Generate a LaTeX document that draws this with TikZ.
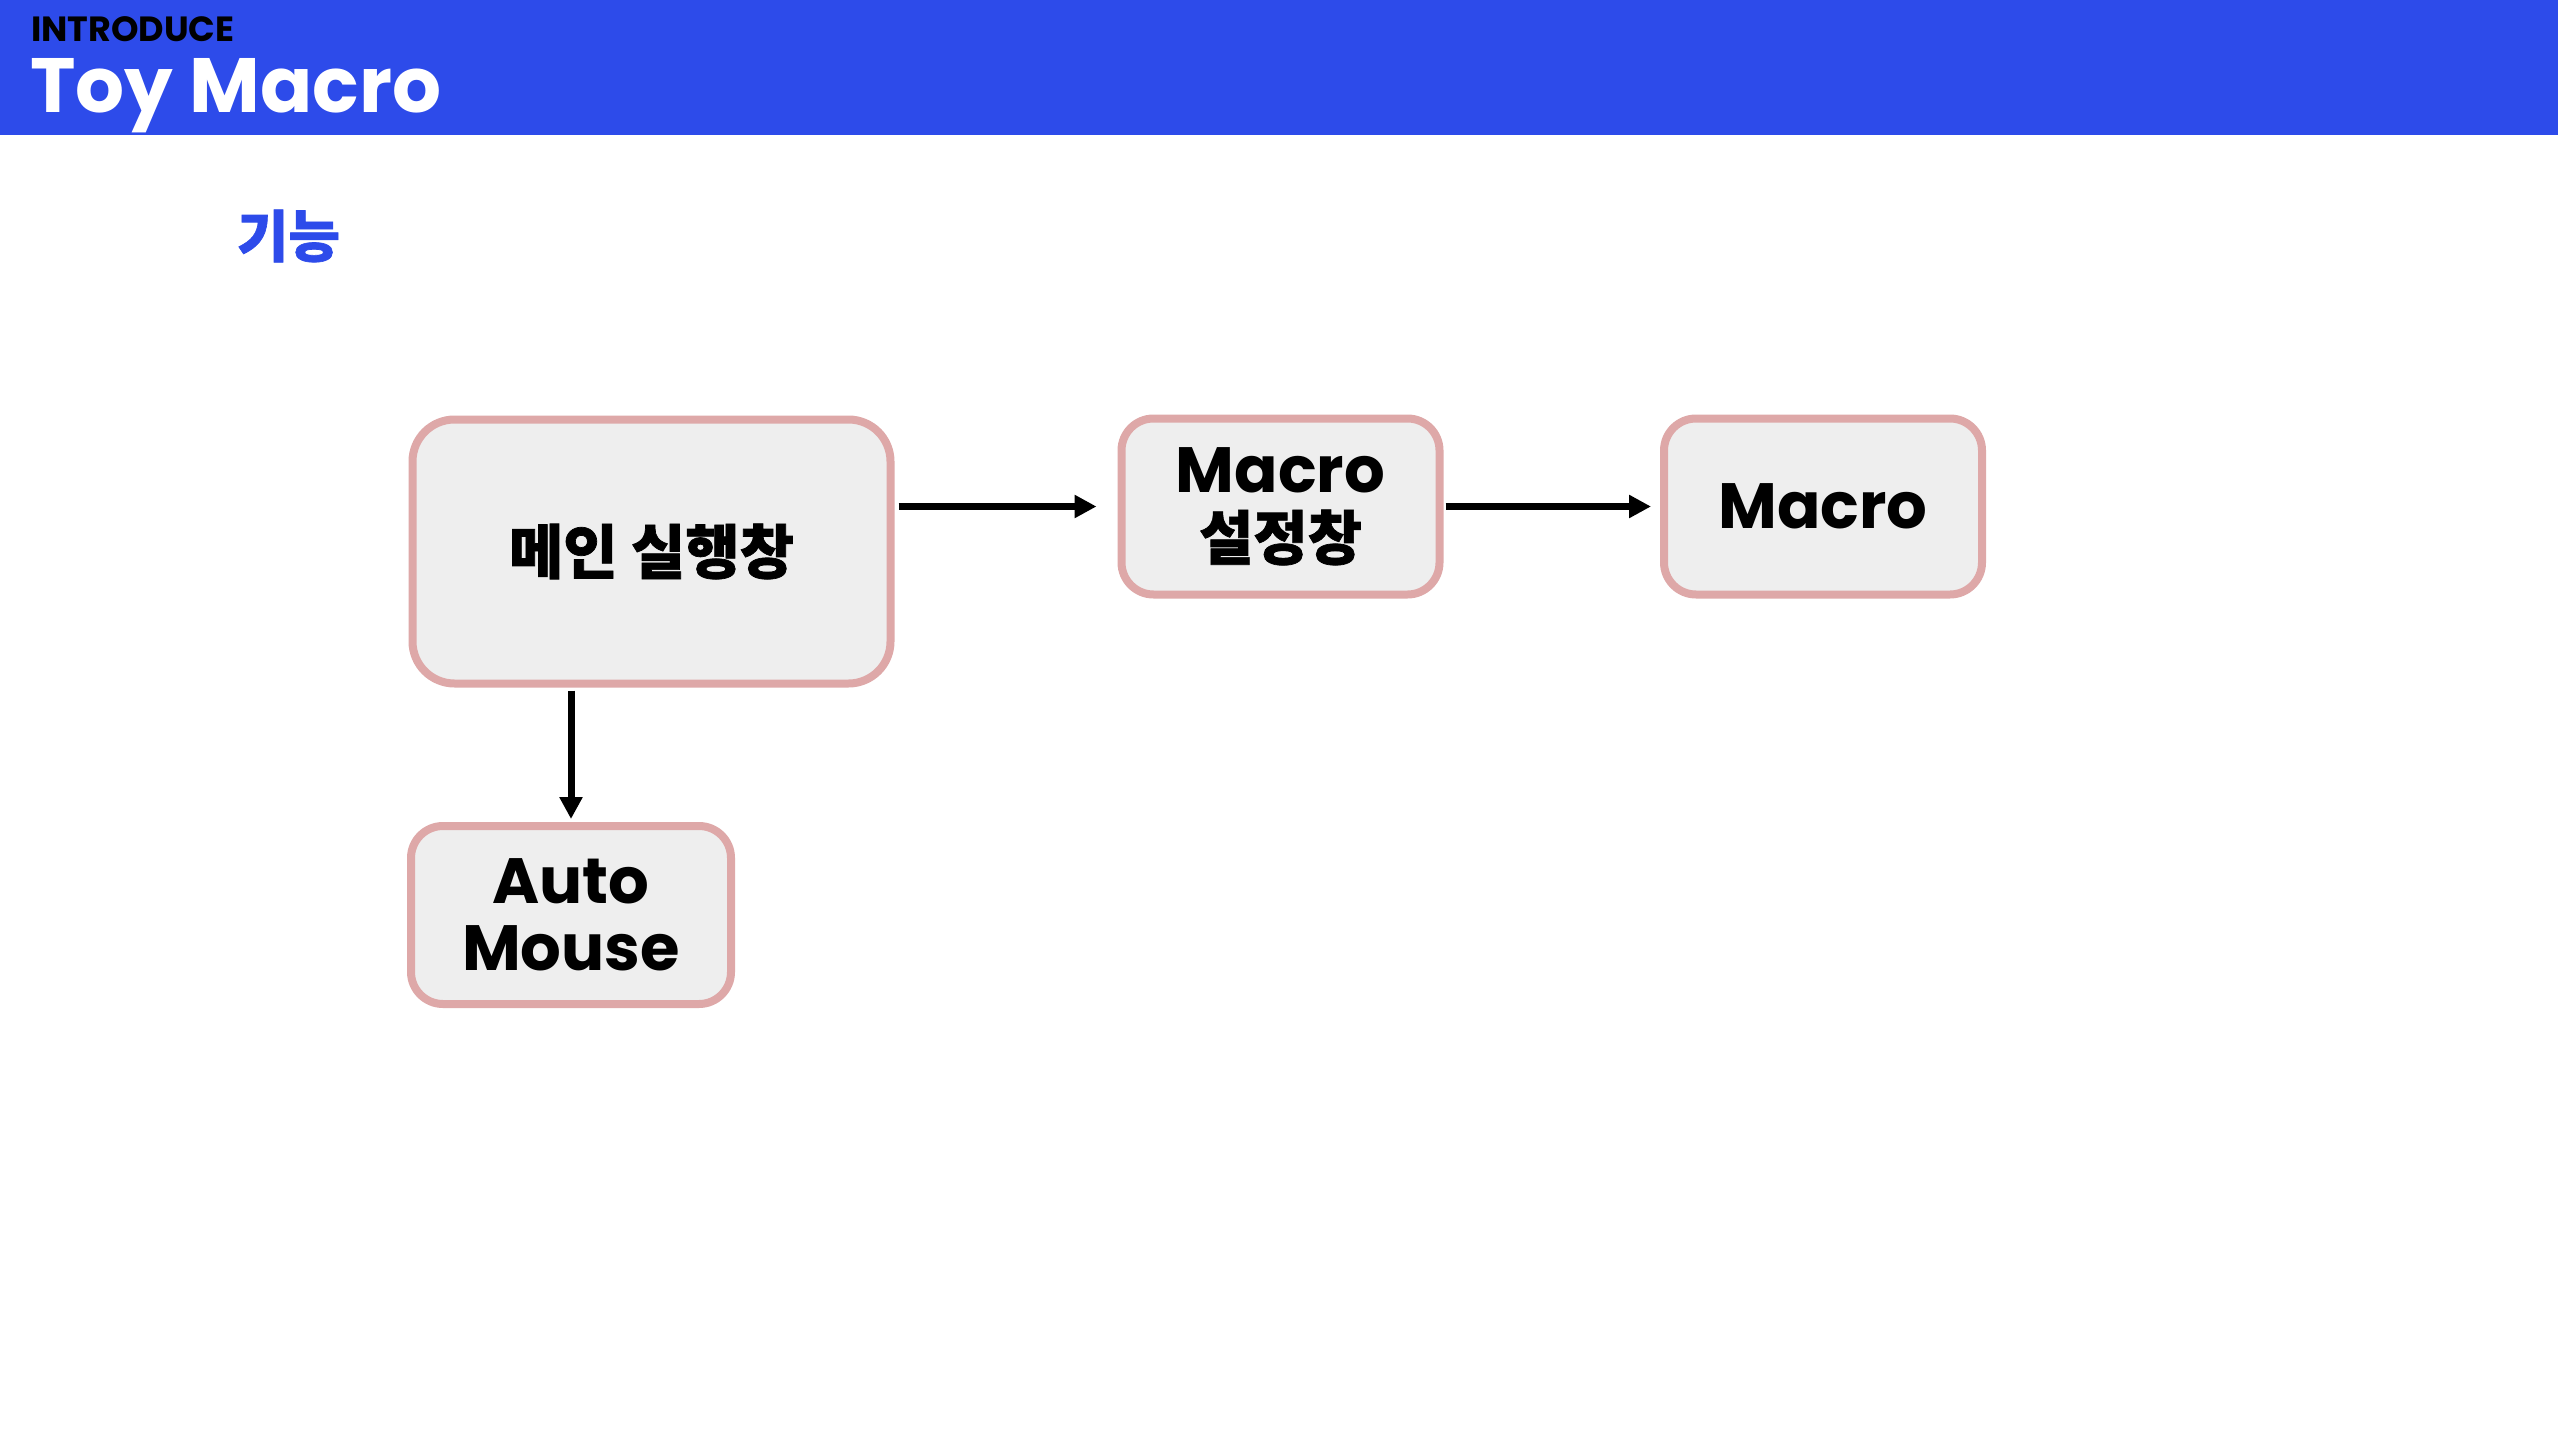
\documentclass[tikz,border=0pt]{standalone}
\usepackage{fontspec}
\setmainfont{Poppins}
\newfontfamily\krfam{Noto Sans CJK KR}[BoldFeatures={FakeBold=1.2}]
\usetikzlibrary{arrows.meta}
\definecolor{hdrblue}{RGB}{45,75,234}
\definecolor{boxfill}{RGB}{238,238,238}
\definecolor{boxline}{RGB}{222,168,168}
\newcommand\krtext[1]{{\krfam\bfseries\fontsize{59}{66}\selectfont #1}}
\begin{document}
\begin{tikzpicture}[x=1pt,y=-1pt,
  box/.style={draw=boxline, fill=boxfill, line width=8pt, rounded corners=32pt,
    inner sep=0pt, align=center, font=\bfseries\fontsize{64}{67}\selectfont},
  arr/.style={line width=7pt, -{Triangle[length=22pt,width=22pt]}},
  plain/.style={inner sep=0pt, outer sep=0pt}]
\useasboundingbox (0,0) rectangle (2558,1431);
\fill[white] (0,0) rectangle (2558,1431);
% header band
\fill[hdrblue] (0,0) rectangle (2558,135);
\node[plain, anchor=base west, font=\bfseries\fontsize{35}{38}\selectfont, text=black] (intro) at (31,42) {INTRODUCE};
\node[plain, anchor=base west, font=\bfseries\fontsize{77}{86}\selectfont, text=white] (title) at (30,113) {Toy Macro};
% section label
\node[plain, text=hdrblue, font=\krfam\bfseries\fontsize{56}{60}\selectfont] (sec) at (288.5,236) {기능};
% boxes
\node[box, rounded corners=42pt, minimum width=478pt, minimum height=264pt] (main) at (651.5,551.5) {\krtext{메인 실행창}};
\node[box, minimum width=318pt, minimum height=176pt] (mset) at (1280.5,506.5) {Macro\\\krtext{설정창}};
\node[box, minimum width=318pt, minimum height=176pt] (mac) at (1823,506.5) {Macro};
\node[box, minimum width=320pt, minimum height=178pt] (auto) at (571,915) {Auto\\Mouse};
% connectors
\draw[arr] ([xshift=4pt]main.east |- mset.west) -- ([xshift=-21pt]mset.west);
\draw[arr] ([xshift=2pt]mset.east) -- ([xshift=-9pt]mac.west);
\draw[arr] ([yshift=-3pt]auto.north |- main.south) -- ([yshift=3pt]auto.north);
\end{tikzpicture}
\end{document}
